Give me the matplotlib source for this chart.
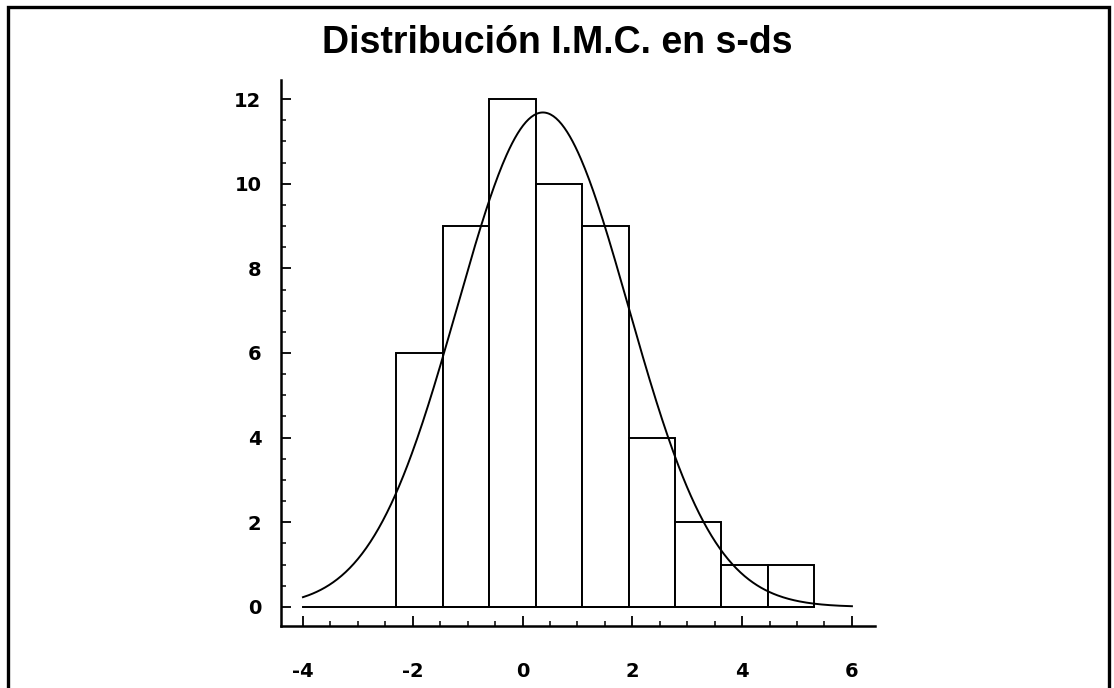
import numpy as np
import matplotlib
matplotlib.use("Agg")
import matplotlib.pyplot as plt
from matplotlib.patches import Rectangle
from matplotlib.ticker import MultipleLocator

# BMI z-score histogram (counts per bin) and fitted normal curve
bin_start = -2.30
bin_width = 0.846
counts = [6, 9, 12, 10, 9, 4, 2, 1, 1]
fit_mean = 0.37
fit_sd = 1.56
curve_range = (-4.0, 6.0)

title = "Distribución I.M.C. en s-ds"
xticks = [-4, -2, 0, 2, 4, 6]
yticks = [0, 2, 4, 6, 8, 10, 12]

plt.rcParams['font.family'] = ['Liberation Sans', 'DejaVu Sans']
plt.rcParams['font.weight'] = 'bold'
plt.rcParams['axes.unicode_minus'] = False

W, H = 1114, 688
fig = plt.figure(figsize=(W / 100, H / 100), dpi=100)
ax = fig.add_axes([281 / W, 1 - 626 / H, (875 - 281) / W, (626 - 80) / H])

edges = bin_start + bin_width * np.arange(len(counts) + 1)
ax.bar(edges[:-1], counts, width=bin_width, align='edge',
       facecolor='white', edgecolor='black', linewidth=1.4, zorder=2)

# baseline under the bars
ax.plot([curve_range[0], edges[-1]], [0, 0], color='black', linewidth=1.4, zorder=3)

# normal curve scaled to counts
n = sum(counts)
xs = np.linspace(curve_range[0], curve_range[1], 400)
ys = n * bin_width * np.exp(-0.5 * ((xs - fit_mean) / fit_sd) ** 2) / (fit_sd * np.sqrt(2 * np.pi))
ax.plot(xs, ys, color='black', linewidth=1.4, zorder=4)

ax.set_xlim(-4.4, 6.42)
ax.set_ylim(-0.45, 12.45)

for side in ('top', 'right'):
    ax.spines[side].set_visible(False)
for side in ('left', 'bottom'):
    ax.spines[side].set_linewidth(1.8)

ax.set_xticks(xticks)
ax.set_yticks(yticks)
ax.set_xticks(np.arange(-4, 6.01, 0.5), minor=True)
ax.yaxis.set_minor_locator(MultipleLocator(0.5))
ax.tick_params(axis='both', which='major', direction='in', length=7, width=1.3)
ax.tick_params(axis='both', which='minor', direction='in', length=3.8, width=1.1)
ax.tick_params(axis='x', which='major', pad=26)
ax.tick_params(axis='y', which='major', pad=14)
for lbl in ax.get_xticklabels() + ax.get_yticklabels():
    lbl.set_fontfamily('DejaVu Sans')
    lbl.set_fontweight('bold')
    lbl.set_fontsize(14)

fig.text(0.5, 1 - 43 / H, title, ha='center', va='center',
         fontsize=27, fontweight='bold')

# outer frame
fig.patches.append(Rectangle((8 / W, -0.05), (1109 - 8) / W, 1.05 - 7 / H,
                             transform=fig.transFigure, fill=False,
                             edgecolor='black', linewidth=2.4))

fig.savefig('out.png', dpi=100, facecolor='white')
